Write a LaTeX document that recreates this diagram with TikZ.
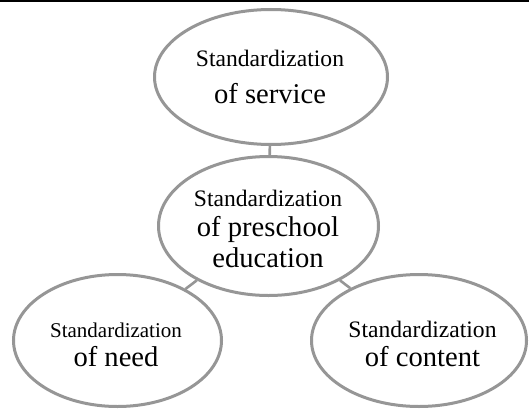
\documentclass[tikz,border=0pt]{standalone}
\usepackage{fontspec}
\setmainfont{Liberation Serif}
\usetikzlibrary{shapes.geometric}
\definecolor{rim}{RGB}{150,150,150}
\tikzset{
  bub/.style={ellipse, draw=rim, line width=3pt, inner sep=0pt, fill=white},
  link/.style={draw=rim, line width=2.6pt},
  small/.style={anchor=base, inner sep=0pt, font=\fontsize{23.6}{28}\selectfont},
  smaller/.style={anchor=base, inner sep=0pt, font=\fontsize{21}{25}\selectfont},
  big/.style={anchor=base, inner sep=0pt, font=\fontsize{28.6}{34}\selectfont}
}
\begin{document}
\begin{tikzpicture}[x=1pt, y=-1pt]
  \useasboundingbox (0,0) rectangle (529,412);
  % rule along the top edge
  \fill[black] (0,0) rectangle (529,2);

  % the four ellipses
  \node[bub, minimum width=233pt, minimum height=135pt] (svc) at (271,77) {};
  \node[bub, minimum width=220pt, minimum height=139pt] (pre) at (268.5,226) {};
  \node[bub, minimum width=208pt, minimum height=132pt] (need) at (117.5,340.5) {};
  \node[bub, minimum width=215pt, minimum height=132pt] (cont) at (419,340.5) {};

  % connectors between the ellipses
  \draw[link] (svc) -- (pre);
  \draw[link] (pre) -- (need);
  \draw[link] (pre) -- (cont);

  % labels
  \node[small] (svc1) at (270,66.7) {Standardization};
  \node[big]   (svc2) at (270,103.3) {of service};

  \node[small] (pre1) at (268,206.7) {Standardization};
  \node[big]   (pre2) at (268,236.5) {of preschool};
  \node[big]   (pre3) at (268,267) {education};

  \node[smaller] (need1) at (116,337.3) {Standardization};
  \node[big]     (need2) at (116,366.7) {of need};

  \node[small] (cont1) at (422.5,337.3) {Standardization};
  \node[big]   (cont2) at (422.5,366.7) {of content};
\end{tikzpicture}
\end{document}
